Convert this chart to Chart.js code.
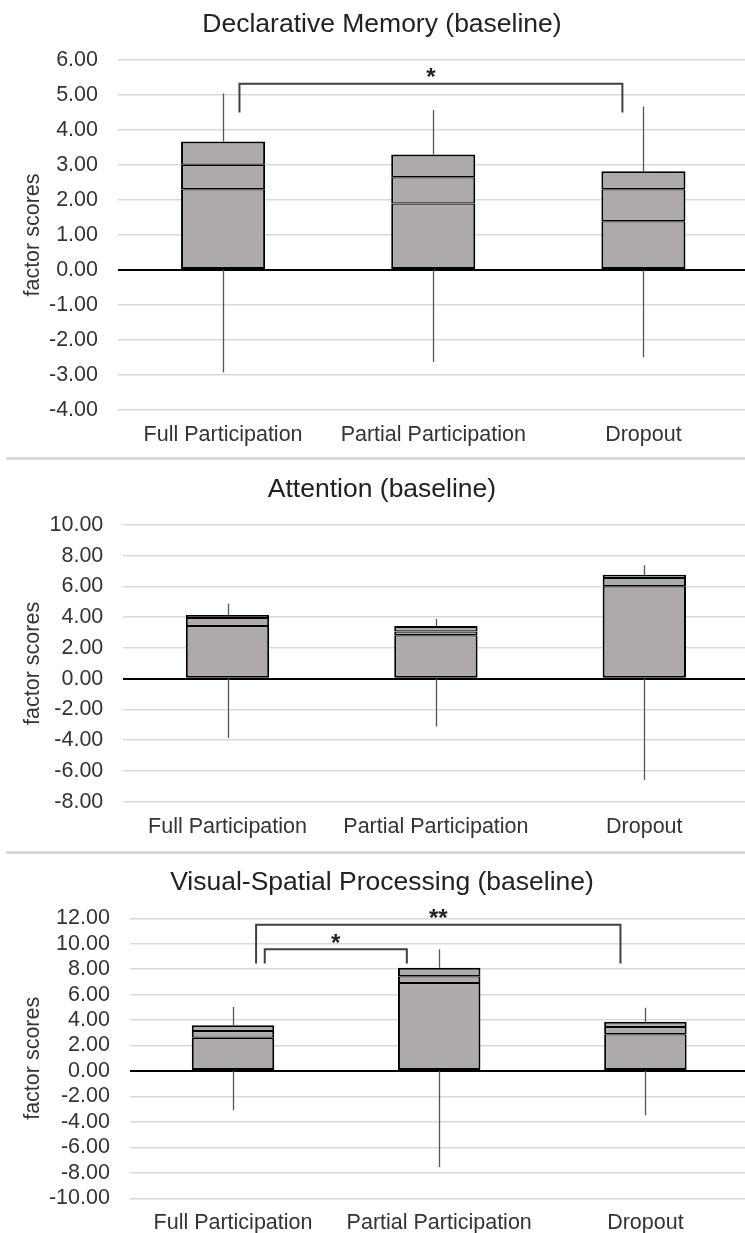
<!DOCTYPE html>
<html><head><meta charset="utf-8">
<script src="https://cdn.jsdelivr.net/npm/chart.js@4.4.0/dist/chart.umd.min.js"></script>
<style>
html,body{margin:0;padding:0;background:#fff;width:745px;height:1233px;overflow:hidden;position:relative;}
.panel{position:absolute;left:0;width:764px;}
.sep{position:absolute;left:6px;width:739px;height:3px;background:#d9d9d9;}
</style></head><body>
<div class="panel" style="top:0;height:456px"><canvas id="c1" width="764" height="456"></canvas></div>
<div class="sep" style="top:457px"></div>
<div class="panel" style="top:460px;height:390px"><canvas id="c2" width="764" height="390"></canvas></div>
<div class="sep" style="top:851px"></div>
<div class="panel" style="top:854px;height:390px"><canvas id="c3" width="764" height="390"></canvas></div>
<script>
const categories = ['Full Participation', 'Partial Participation', 'Dropout'];

// Declarative Memory (baseline)
const dmLower  = [2.31, 1.90, 1.39];
const dmMiddle = [3.01, 2.65, 2.31];
const dmUpper  = [3.67, 3.30, 2.82];
const dmMax    = [5.04, 4.57, 4.67];
const dmMin    = [-2.93, -2.63, -2.49];
const dmBrackets = [{ from: 0, to: 2, top: 5.32, end: 4.5, label: '*' }];

// Attention (baseline)
const atLower  = [3.43, 2.82, 6.02];
const atMiddle = [3.95, 3.08, 6.55];
const atUpper  = [4.15, 3.43, 6.77];
const atMax    = [4.87, 3.89, 7.38];
const atMin    = [-3.86, -3.10, -6.59];
const atBrackets = [];

// Visual-Spatial Processing (baseline)
const vsLower  = [2.62, 6.91, 2.88];
const vsMiddle = [3.15, 7.44, 3.46];
const vsUpper  = [3.59, 8.12, 3.88];
const vsMax    = [5.03, 9.56, 4.98];
const vsMin    = [-3.09, -7.54, -3.48];
const vsBrackets = [
  { from: 0, to: 2, top: 11.5, end: 8.45, label: '**' },
  { from: 0, to: 1, top: 9.56, end: 8.45, label: '*' }
];

const FONT = "'Liberation Sans', Arial, sans-serif";
Chart.defaults.font.family = FONT;
Chart.defaults.color = '#333';

function makePanel(id, p) {
  const segs = [
    p.lower.map(v => [0, v]),
    p.lower.map((v, i) => [v, p.middle[i]]),
    p.middle.map((v, i) => [v, p.upper[i]])
  ];
  const borders = [
    { top: 1.25, bottom: 2, left: 2, right: 2 },
    { top: 1.25, bottom: 1.25, left: 2, right: 2 },
    { top: 2, bottom: 1.25, left: 2, right: 2 }
  ];
  const canvas = document.getElementById(id);
  const H = canvas.height;
  const xAxisH = 21.5 * 1.2 + 2 * 12;
  new Chart(canvas, {
    type: 'bar',
    data: {
      labels: categories,
      datasets: segs.map((d, k) => ({
        data: d, backgroundColor: '#aeaaaa', borderColor: '#000', borderWidth: borders[k],
        borderSkipped: false, grouped: false, barPercentage: 1, categoryPercentage: 0.4
      }))
    },
    options: {
      responsive: false, animation: false, devicePixelRatio: 1,
      layout: { padding: { left: 16, right: 15.5, top: p.chartTop, bottom: H - p.chartBottom - xAxisH } },
      plugins: { legend: { display: false }, tooltip: { enabled: false }, title: { display: false } },
      scales: {
        x: {
          grid: { display: false, drawTicks: false }, border: { display: false },
          ticks: { padding: 12, font: { size: 21.5 }, color: '#333', maxRotation: 0, autoSkip: false }
        },
        y: {
          min: p.yMin, max: p.yMax,
          border: { display: false },
          grid: {
            drawTicks: false,
            color: c => c.tick && c.tick.value === 0 ? '#000' : '#d9d9d9',
            lineWidth: c => c.tick && c.tick.value === 0 ? 2 : 1.5
          },
          ticks: { stepSize: p.yStep, autoSkip: false, padding: 20, font: { size: 21.5 }, color: '#333',
                   callback: v => Number(v).toFixed(2) },
          title: { display: true, text: 'factor scores', font: { size: 21.5 }, color: '#333' },
          afterFit: s => { s.width = p.chartLeft - 16; }
        }
      }
    },
    plugins: [{
      id: 'boxExtras',
      beforeDatasetsDraw(chart) {
        const { ctx, scales: { x, y } } = chart;
        ctx.save();
        ctx.strokeStyle = '#555'; ctx.lineWidth = 1.3;
        p.max.forEach((mx, i) => {
          const px = Math.round(x.getPixelForValue(i)) + 0.5;
          ctx.beginPath();
          ctx.moveTo(px, y.getPixelForValue(p.min[i]));
          ctx.lineTo(px, y.getPixelForValue(0));
          ctx.moveTo(px, y.getPixelForValue(p.upper[i]));
          ctx.lineTo(px, y.getPixelForValue(mx));
          ctx.stroke();
        });
        ctx.restore();
      },
      afterDatasetsDraw(chart) {
        const { ctx, scales: { x, y } } = chart;
        ctx.save();
        ctx.strokeStyle = '#404040'; ctx.lineWidth = 2;
        p.brackets.forEach((b, k) => {
          const ins = p.insets[k];
          const x1 = x.getPixelForValue(b.from + ins[0]);
          const x2 = x.getPixelForValue(b.to + ins[1]);
          const yt = y.getPixelForValue(b.top);
          const ye = y.getPixelForValue(b.end);
          ctx.beginPath();
          ctx.moveTo(x1, ye); ctx.lineTo(x1, yt); ctx.lineTo(x2, yt); ctx.lineTo(x2, ye);
          ctx.stroke();
          ctx.fillStyle = '#222';
          ctx.font = 'bold 24px ' + FONT;
          ctx.textAlign = 'center'; ctx.textBaseline = 'alphabetic';
          ctx.fillText(b.label, (x1 + x2) / 2, yt - 12 + 0.57 * 24);
        });
        ctx.fillStyle = '#222';
        ctx.font = '26.5px ' + FONT;
        ctx.textAlign = 'center'; ctx.textBaseline = 'middle';
        ctx.fillText(p.title, 382, p.titleY);
        ctx.restore();
      }
    }]
  });
}

makePanel('c1', {
  title: 'Declarative Memory (baseline)', titleY: 24.5,
  lower: dmLower, middle: dmMiddle, upper: dmUpper, max: dmMax, min: dmMin,
  yMin: -4, yMax: 6, yStep: 1, brackets: dmBrackets, insets: [[0.078, -0.1]],
  chartTop: 60, chartBottom: 410, chartLeft: 118
});
makePanel('c2', {
  title: 'Attention (baseline)', titleY: 29.5,
  lower: atLower, middle: atMiddle, upper: atUpper, max: atMax, min: atMin,
  yMin: -8, yMax: 10, yStep: 2, brackets: atBrackets, insets: [],
  chartTop: 65, chartBottom: 341.7, chartLeft: 123.3
});
makePanel('c3', {
  title: 'Visual-Spatial Processing (baseline)', titleY: 29,
  lower: vsLower, middle: vsMiddle, upper: vsUpper, max: vsMax, min: vsMin,
  yMin: -10, yMax: 12, yStep: 2, brackets: vsBrackets, insets: [[0.112, -0.121], [0.154, -0.157]],
  chartTop: 64.3, chartBottom: 344.3, chartLeft: 129.9
});
</script>
</body></html>
